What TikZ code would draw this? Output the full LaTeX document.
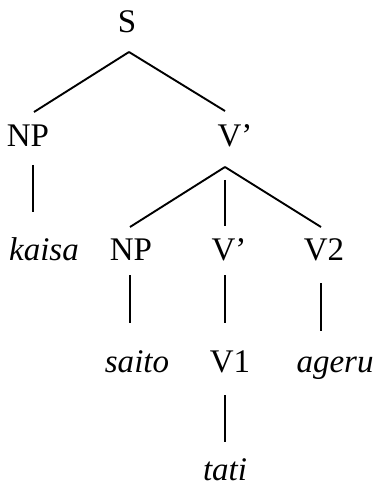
\documentclass[tikz,border=0pt]{standalone}
\usepackage{fontspec}
\setmainfont{Liberation Serif}
\begin{document}
\begin{tikzpicture}[x=1pt,y=-1pt,
  lbl/.style={anchor=base, inner sep=0pt, font=\fontsize{33}{39}\selectfont},
  word/.style={anchor=base, inner sep=0pt, font=\fontsize{33}{39}\selectfont\itshape},
  branch/.style={line width=1.9pt}]
\useasboundingbox (0,0) rectangle (379,486);

% categories and words, placed on their baselines
\node[lbl]  (S)     at (127,33)  {S};
\node[lbl]  (NPa)   at (28,147)  {NP};
\node[lbl]  (Va)    at (235,147) {V’};
\node[word] (kaisa) at (44,260)  {kaisa};
\node[lbl]  (NPb)   at (131,260) {NP};
\node[lbl]  (Vb)    at (229,260) {V’};
\node[lbl]  (V2)    at (324,260) {V2};
\node[word] (saito) at (137,372) {saito};
\node[lbl]  (V1)    at (230,372) {V1};
\node[word] (ageru) at (335,372) {ageru};
\node[word] (tati)  at (225,480) {tati};

% branches
\draw[branch] ([xshift=2pt,yshift=-19pt]S.base)    -- ([xshift=6pt,yshift=35pt]NPa.base);
\draw[branch] ([xshift=2pt,yshift=-19pt]S.base)    -- ([xshift=-10pt,yshift=36pt]Va.base);
\draw[branch] ([xshift=5pt,yshift=-18pt]NPa.base)  -- ([xshift=-11pt,yshift=48pt]kaisa.base);
\draw[branch] ([xshift=-10pt,yshift=-20pt]Va.base) -- ([xshift=-1pt,yshift=33pt]NPb.base);
\draw[branch] ([xshift=-10pt,yshift=-33pt]Va.base) -- ([xshift=-4pt,yshift=34pt]Vb.base);
\draw[branch] ([xshift=-10pt,yshift=-20pt]Va.base) -- ([xshift=-3pt,yshift=33pt]V2.base);
\draw[branch] ([xshift=-1pt,yshift=-15pt]NPb.base) -- ([xshift=-7pt,yshift=49pt]saito.base);
\draw[branch] ([xshift=-4pt,yshift=-15pt]Vb.base)  -- ([xshift=-5pt,yshift=49pt]V1.base);
\draw[branch] ([xshift=-3pt,yshift=-23pt]V2.base)  -- ([xshift=-14pt,yshift=41pt]ageru.base);
\draw[branch] ([xshift=-5pt,yshift=-23pt]V1.base)  -- ([xshift=0pt,yshift=38pt]tati.base);
\end{tikzpicture}
\end{document}
